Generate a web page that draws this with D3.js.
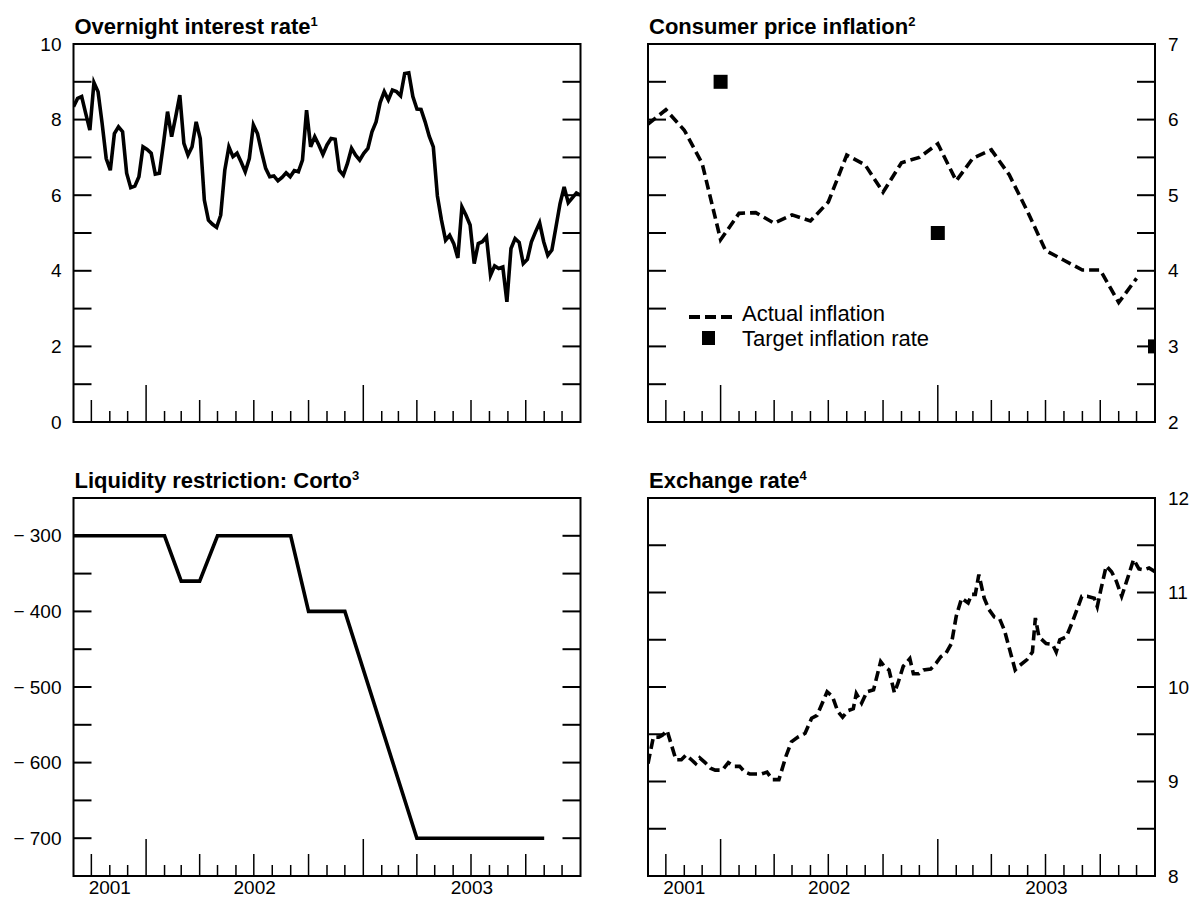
<!DOCTYPE html>
<html><head><meta charset="utf-8">
<script src="https://cdn.jsdelivr.net/npm/d3@7"></script>
<style>
body{margin:0;background:#fff}
svg{display:block}
text{font-family:"Liberation Sans",Arial,Helvetica,sans-serif;fill:#000}
</style>
</head><body>
<svg id="c" width="1191" height="898"></svg>
<script>
// ---------- data ----------
const startDate = "2001-09-01";
const endDate = "2004-01-01";
const yearLabels = ["2001", "2002", "2003"];

// Overnight interest rate (weekly, Sep 2001 - Dec 2003)
const rateValues = [
  8.34, 8.56, 8.61, 8.16, 7.72, 8.98, 8.74, 7.90, 6.97, 6.66,
  7.63, 7.81, 7.68, 6.58, 6.20, 6.24, 6.49, 7.28, 7.21, 7.11,
  6.56, 6.58, 7.37, 8.21, 7.55, 8.08, 8.65, 7.37, 7.06, 7.28,
  7.94, 7.50, 5.87, 5.34, 5.23, 5.15, 5.47, 6.66, 7.28, 7.02,
  7.11, 6.88, 6.62, 6.97, 7.86, 7.63, 7.15, 6.71, 6.49, 6.51,
  6.38, 6.47, 6.59, 6.49, 6.65, 6.62, 6.93, 8.25, 7.28, 7.55,
  7.33, 7.08, 7.33, 7.50, 7.48, 6.66, 6.53, 6.84, 7.24, 7.06,
  6.93, 7.11, 7.24, 7.68, 7.94, 8.45, 8.74, 8.52, 8.78, 8.74,
  8.63, 9.22, 9.24, 8.61, 8.28, 8.27, 7.94, 7.56, 7.28, 5.98,
  5.34, 4.81, 4.94, 4.72, 4.34, 5.69, 5.47, 5.21, 4.19, 4.72,
  4.77, 4.90, 3.88, 4.13, 4.06, 4.10, 3.18, 4.59, 4.85, 4.75,
  4.19, 4.30, 4.77, 5.03, 5.27, 4.77, 4.41, 4.55, 5.16, 5.78,
  6.22, 5.80, 5.93, 6.06, 6.00
];
const rateYTicks = [0,1,2,3,4,5,6,7,8,9,10];
const rateYLabels = [0,2,4,6,8,10];

// Consumer price inflation (monthly)
const cpiMonths = [
  "2001-09","2001-10","2001-11","2001-12",
  "2002-01","2002-02","2002-03","2002-04","2002-05","2002-06",
  "2002-07","2002-08","2002-09","2002-10","2002-11","2002-12",
  "2003-01","2003-02","2003-03","2003-04","2003-05","2003-06",
  "2003-07","2003-08","2003-09","2003-10","2003-11","2003-12"
];
const cpiValues = [
  5.94, 6.13, 5.86, 5.42,
  4.41, 4.76, 4.77, 4.63, 4.74, 4.66,
  4.91, 5.53, 5.40, 5.04, 5.43, 5.50,
  5.68, 5.19, 5.49, 5.60, 5.27, 4.78,
  4.27, 4.14, 4.01, 4.01, 3.58, 3.90
];
const targetDates = ["2002-01-01", "2003-01-01", "2004-01-01"];
const targetValues = [6.5, 4.5, 3.0];
const cpiYTicks = [2,2.5,3,3.5,4,4.5,5,5.5,6,6.5,7];
const cpiYLabels = [2,3,4,5,6,7];
const legendLabels = ["Actual inflation", "Target inflation rate"];

// Liquidity restriction: Corto (change points)
const cortoDates = ["2001-09-01","2002-02-01","2002-03-01","2002-04-01","2002-05-01",
                    "2002-09-01","2002-10-01","2002-12-01","2003-04-01","2003-11-01"];
const cortoValues = [-300, -300, -360, -360, -300, -300, -400, -400, -700, -700];
const cortoYTicks = [-750,-700,-650,-600,-550,-500,-450,-400,-350,-300,-250];
const cortoYLabels = [-700,-600,-500,-400,-300];

// Exchange rate (days since 1 Sep 2001, value)
const fxDays = [
  0, 9, 18, 24, 32, 47, 56, 64, 73, 80, 87, 96, 105, 113, 125, 135, 145, 154, 163, 171,
  183, 191, 200, 209, 220, 232, 241, 252, 264, 275, 284, 293, 301, 310, 319, 327, 336, 345, 350, 359,
  368, 379, 391, 397, 405, 414, 420, 429, 440, 446, 455, 463, 475, 484, 492, 501, 510, 518, 527, 538,
  544, 550, 556, 565, 573, 582, 591, 599, 608, 617, 625, 637, 646, 651, 657, 669, 680, 686, 692, 703,
  712, 721, 729, 738, 750, 755, 761, 770, 779, 787, 796, 807, 816, 825, 833, 842, 852
];
const fxValues = [
  9.19, 9.47, 9.47, 9.49, 9.54, 9.23, 9.23, 9.28, 9.23, 9.19, 9.25, 9.20, 9.14, 9.12, 9.12, 9.20, 9.16, 9.16, 9.10, 9.08,
  9.08, 9.08, 9.10, 9.02, 9.02, 9.27, 9.42, 9.47, 9.51, 9.67, 9.70, 9.83, 9.95, 9.90, 9.74, 9.68, 9.75, 9.77, 9.93, 9.83,
  9.95, 9.97, 10.27, 10.22, 10.18, 9.94, 10.04, 10.22, 10.30, 10.14, 10.14, 10.18, 10.19, 10.25, 10.32, 10.36, 10.46, 10.75, 10.94, 10.89,
  10.98, 10.98, 11.19, 10.94, 10.82, 10.74, 10.72, 10.60, 10.39, 10.18, 10.23, 10.29, 10.37, 10.73, 10.53, 10.46, 10.45, 10.37, 10.50, 10.53,
  10.67, 10.82, 10.96, 10.96, 10.94, 10.85, 11.03, 11.28, 11.22, 11.12, 10.96, 11.17, 11.35, 11.25, 11.24, 11.26, 11.22
];
const fxYTicks = [8,8.5,9,9.5,10,10.5,11,11.5,12];
const fxYLabels = [8,9,10,11,12];

// ---------- drawing ----------
const svg = d3.select("#c");
const parseDay = d3.timeParse("%Y-%m-%d");
const parseMonth = d3.timeParse("%Y-%m");
const t0 = parseDay(startDate), t1 = parseDay(endDate);
const tickFont = 19;

function panel(cfg) {
  const x = d3.scaleTime().domain([t0, t1]).range([cfg.x0, cfg.x1]);
  const y = d3.scaleLinear().domain(cfg.yDomain).range([cfg.y1, cfg.y0]);
  const g = svg.append("g");
  const clipId = "clip-" + cfg.id;
  svg.append("clipPath").attr("id", clipId).append("rect")
    .attr("x", cfg.x0).attr("y", cfg.y0)
    .attr("width", cfg.x1 - cfg.x0).attr("height", cfg.y1 - cfg.y0);

  // y ticks both sides, inward
  const tl = 18;
  g.selectAll(".ytl").data(cfg.yTicks).join("line")
    .attr("x1", cfg.x0).attr("x2", cfg.x0 + tl)
    .attr("y1", d => y(d)).attr("y2", d => y(d))
    .attr("stroke", "#000").attr("stroke-width", 2);
  g.selectAll(".ytr").data(cfg.yTicks).join("line")
    .attr("x1", cfg.x1 - tl).attr("x2", cfg.x1)
    .attr("y1", d => y(d)).attr("y2", d => y(d))
    .attr("stroke", "#000").attr("stroke-width", 2);

  // y labels
  const lab = g.append("g").selectAll("text").data(cfg.yLabels).join("text")
    .attr("y", d => y(d)).attr("dy", "0.35em")
    .attr("font-size", tickFont)
    .text(cfg.fmt);
  if (cfg.side === "left") lab.attr("x", cfg.x0 - 12).attr("text-anchor", "end");
  else lab.attr("x", cfg.x1 + 13).attr("text-anchor", "start");

  // x ticks (monthly, upward from bottom)
  const months = d3.timeMonth.range(d3.timeMonth.offset(t0, 1), t1);
  g.selectAll(".xt").data(months).join("line")
    .attr("x1", d => x(d)).attr("x2", d => x(d))
    .attr("y1", cfg.y1)
    .attr("y2", d => cfg.y1 - (d.getMonth() === 0 ? 37 : d.getMonth() % 3 === 0 ? 22 : 11))
    .attr("stroke", "#000").attr("stroke-width", 1.5);

  // year labels
  if (cfg.xLabels) {
    g.selectAll(".yl").data(yearLabels).join("text")
      .attr("x", d => {
        const a = Math.max(+t0, +new Date(+d, 0, 1));
        const b = Math.min(+t1, +new Date(+d + 1, 0, 1));
        return x(new Date((a + b) / 2));
      })
      .attr("y", cfg.y1 + 18)
      .attr("text-anchor", "middle")
      .attr("font-size", tickFont)
      .text(d => d);
  }

  // title
  const tt = svg.append("text").attr("x", cfg.x0 + 1).attr("y", cfg.y0 - 10)
    .attr("font-size", 22).attr("font-weight", "bold");
  tt.append("tspan").text(cfg.title);
  tt.append("tspan").attr("font-size", 13).attr("dy", -8).text(cfg.sup);

  const plot = svg.append("g").attr("clip-path", "url(#" + clipId + ")");
  return {x, y, plot, finish: () => {
    svg.append("rect").attr("x", cfg.x0).attr("y", cfg.y0)
      .attr("width", cfg.x1 - cfg.x0).attr("height", cfg.y1 - cfg.y0)
      .attr("fill", "none").attr("stroke", "#000").attr("stroke-width", 2);
  }};
}

const L = {x0: 73.5, x1: 580.5}, R = {x0: 648, x1: 1155};
const T = {y0: 44, y1: 422}, B = {y0: 498, y1: 876};
const lineW = 3.6, dash = "10,5";

// Panel 1: Overnight interest rate
{
  const p = panel({id: "rate", ...L, ...T, yDomain: [0, 10], yTicks: rateYTicks, yLabels: rateYLabels,
    side: "left", fmt: d => d, title: "Overnight interest rate", sup: "1", xLabels: false});
  const n = rateValues.length;
  const pts = rateValues.map((v, i) => ({d: new Date(+t0 + (t1 - t0) * i / (n - 1)), v}));
  p.plot.append("path").datum(pts)
    .attr("d", d3.line().x(d => p.x(d.d)).y(d => p.y(d.v)))
    .attr("fill", "none").attr("stroke", "#000").attr("stroke-width", lineW)
    .attr("stroke-linejoin", "miter");
  p.finish();
}

// Panel 2: Consumer price inflation
{
  const p = panel({id: "cpi", ...R, ...T, yDomain: [2, 7], yTicks: cpiYTicks, yLabels: cpiYLabels,
    side: "right", fmt: d => d, title: "Consumer price inflation", sup: "2", xLabels: false});
  const pts = cpiValues.map((v, i) => ({d: parseMonth(cpiMonths[i]), v}));
  p.plot.append("path").datum(pts)
    .attr("d", d3.line().x(d => p.x(d.d)).y(d => p.y(d.v)))
    .attr("fill", "none").attr("stroke", "#000").attr("stroke-width", lineW)
    .attr("stroke-dasharray", dash);
  const sq = 14;
  p.plot.selectAll(".tg").data(targetValues.map((v, i) => ({d: parseDay(targetDates[i]), v})))
    .join("rect")
    .attr("x", d => p.x(d.d) - sq / 2).attr("y", d => p.y(d.v) - sq / 2)
    .attr("width", sq).attr("height", sq).attr("fill", "#000");
  // legend
  const lg = svg.append("g");
  lg.append("line").attr("x1", 689).attr("x2", 733).attr("y1", 317).attr("y2", 317)
    .attr("stroke", "#000").attr("stroke-width", 4).attr("stroke-dasharray", "11,5");
  lg.append("text").attr("x", 742).attr("y", 321).attr("font-size", 22).text(legendLabels[0]);
  lg.append("rect").attr("x", 702).attr("y", 331).attr("width", 13).attr("height", 14).attr("fill", "#000");
  lg.append("text").attr("x", 742).attr("y", 346).attr("font-size", 22).text(legendLabels[1]);
  p.finish();
}

// Panel 3: Liquidity restriction
{
  const p = panel({id: "corto", ...L, ...B, yDomain: [-750, -250], yTicks: cortoYTicks, yLabels: cortoYLabels,
    side: "left", fmt: d => "\u2212 " + Math.abs(d), title: "Liquidity restriction: Corto", sup: "3", xLabels: true});
  const pts = cortoValues.map((v, i) => ({d: parseDay(cortoDates[i]), v}));
  p.plot.append("path").datum(pts)
    .attr("d", d3.line().x(d => p.x(d.d)).y(d => p.y(d.v)))
    .attr("fill", "none").attr("stroke", "#000").attr("stroke-width", lineW);
  p.finish();
}

// Panel 4: Exchange rate
{
  const p = panel({id: "fx", ...R, ...B, yDomain: [8, 12], yTicks: fxYTicks, yLabels: fxYLabels,
    side: "right", fmt: d => d, title: "Exchange rate", sup: "4", xLabels: true});
  const pts = fxValues.map((v, i) => ({d: d3.timeDay.offset(t0, fxDays[i]), v}));
  p.plot.append("path").datum(pts)
    .attr("d", d3.line().x(d => p.x(d.d)).y(d => p.y(d.v)))
    .attr("fill", "none").attr("stroke", "#000").attr("stroke-width", lineW)
    .attr("stroke-dasharray", dash);
  p.finish();
}
</script>
</body></html>
